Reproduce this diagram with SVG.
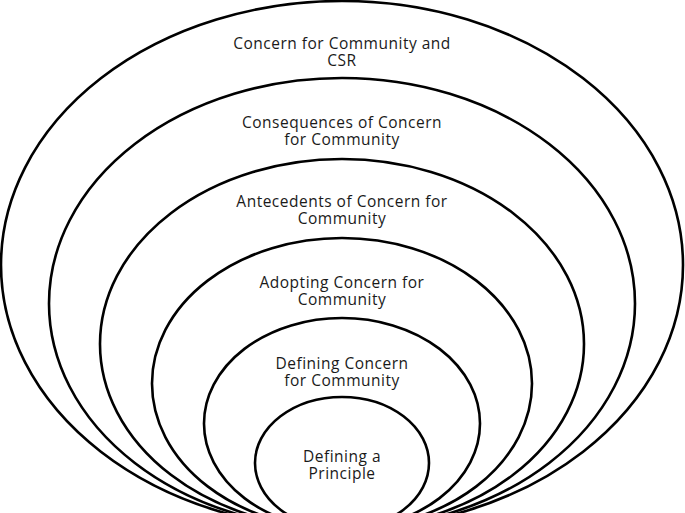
<svg xmlns="http://www.w3.org/2000/svg" width="685" height="513" viewBox="0 0 685 513">
<style>
  .ring { fill: #ffffff; stroke: #000000; stroke-width: 2.6; }
  .lbl { font-family: "Open Sans", "Liberation Sans", sans-serif; font-size: 15.5px; letter-spacing: 0.5px; fill: #1a1a1a; text-anchor: middle; }
</style>
<rect width="685" height="513" fill="#ffffff"/>
<g id="connectors"></g>
<g id="node-csr">
  <ellipse class="ring" cx="342" cy="265" rx="341" ry="264"/>
  <text class="lbl" x="342" y="48.5">Concern for Community and<tspan x="342" dy="17">CSR</tspan></text>
</g>
<g id="node-consequences">
  <ellipse class="ring" cx="342" cy="303.5" rx="293" ry="225.5"/>
  <text class="lbl" x="342" y="127.5">Consequences of Concern<tspan x="342" dy="17">for Community</tspan></text>
</g>
<g id="node-antecedents">
  <ellipse class="ring" cx="342" cy="344" rx="242" ry="185"/>
  <text class="lbl" x="342" y="206.5">Antecedents of Concern for<tspan x="342" dy="17">Community</tspan></text>
</g>
<g id="node-adopting">
  <ellipse class="ring" cx="342" cy="383.5" rx="190" ry="145.5"/>
  <text class="lbl" x="342" y="287.5">Adopting Concern for<tspan x="342" dy="17">Community</tspan></text>
</g>
<g id="node-defining-concern">
  <ellipse class="ring" cx="342" cy="423.5" rx="138" ry="105.5"/>
  <text class="lbl" x="342" y="368.5">Defining Concern<tspan x="342" dy="17">for Community</tspan></text>
</g>
<g id="node-principle">
  <ellipse class="ring" cx="342" cy="463" rx="87" ry="66"/>
  <text class="lbl" x="342" y="461.5">Defining a<tspan x="342" dy="17">Principle</tspan></text>
</g>
</svg>
